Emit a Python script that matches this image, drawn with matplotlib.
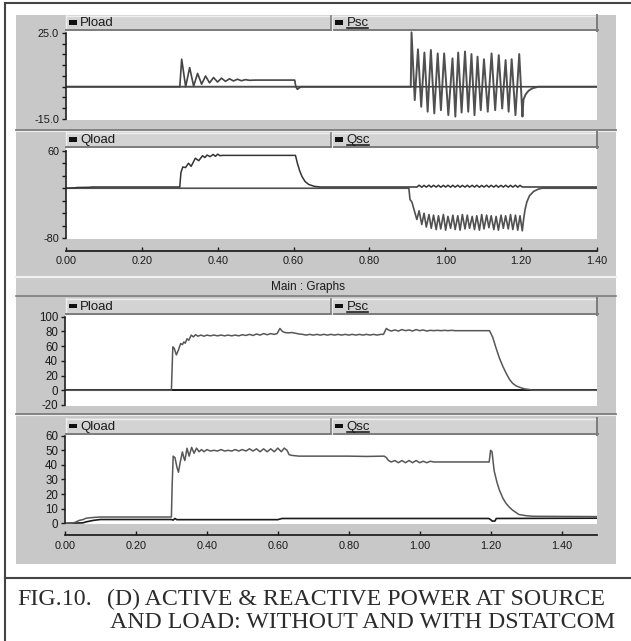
import matplotlib
matplotlib.use('Agg')
import matplotlib.pyplot as plt
from matplotlib.patches import Rectangle
from matplotlib.lines import Line2D

plt.rcParams['font.family'] = ['Liberation Sans', 'DejaVu Sans']

# ---------------- data ----------------
# Panel 1: active power, without compensation
p1_load_t = [0.000, 0.300, 0.305, 0.3155, 0.326, 0.3365, 0.347, 0.3575, 0.368, 0.3785,
             0.389, 0.3995, 0.410, 0.4205, 0.431, 0.4415, 0.452, 0.4625, 0.473, 0.4835,
             0.500, 0.603, 0.606, 0.610, 0.615, 0.620, 1.400]
p1_load_v = [0, 0, 12.8, 0, 8.9, 0.3, 6.2, 1.2, 5.0, 1.8,
             4.3, 2.2, 4.0, 2.5, 3.7, 2.7, 3.5, 2.8, 3.3, 3.0,
             3.1, 3.1, 0, -1.2, -0.5, 0, 0]
p1_sc_t = [0.000, 0.909, 0.911, 0.9195, 0.928, 0.9365, 0.945, 0.9535, 0.962, 0.971,
           0.980, 0.9885, 0.997, 1.008, 1.019, 1.0265, 1.034, 1.043, 1.052, 1.0605,
           1.069, 1.077, 1.085, 1.0935, 1.102, 1.112, 1.122, 1.1315, 1.141, 1.150,
           1.159, 1.167, 1.175, 1.185, 1.195, 1.2035, 1.206, 1.212, 1.220, 1.230,
           1.245, 1.400]
p1_sc_v = [0, 0, 25.3, -6.2, 17.4, -9.3, 15.9, -11.6, 17.1, -12.4,
           15.5, -10.9, 15.5, -13.2, 13.2, -13.9, 15.9, -12.0, 16.4, -11.6,
           15.2, -13.2, 14.0, -10.9, 12.8, -11.6, 15.5, -10.9, 14.7, -10.1,
           12.4, -11.6, 12.8, -13.2, 15.2, -13.9, -6.0, -3.5, -1.8, -0.7,
           0, 0]

# Panel 2: reactive power, without compensation
q_osc_t = [0.925, 0.931, 0.938, 0.944, 0.950, 0.957, 0.963, 0.969, 0.976, 0.982,
           0.988, 0.995, 1.001, 1.007, 1.014, 1.020, 1.026, 1.033, 1.039, 1.045,
           1.052, 1.058, 1.064, 1.071, 1.077, 1.083, 1.090, 1.096, 1.102, 1.109,
           1.115, 1.121, 1.128, 1.134, 1.140, 1.147, 1.153, 1.159, 1.166, 1.172,
           1.178, 1.185, 1.191, 1.197]
q_sc_osc = [-50, -36, -58, -40, -62, -42, -64, -43, -66, -44,
            -65, -42, -67, -45, -64, -43, -66, -44, -67, -42,
            -65, -43, -64, -45, -66, -44, -67, -42, -65, -43,
            -63, -44, -66, -45, -67, -43, -64, -44, -65, -42,
            -66, -43, -67, -44]
q_load_osc = [1.8, 4.8, 1.6, 4.6, 1.8, 4.8, 1.7, 4.7, 1.8, 4.8,
              1.6, 4.6, 1.8, 4.8, 1.7, 4.7, 1.8, 4.8, 1.6, 4.6,
              1.8, 4.8, 1.7, 4.7, 1.8, 4.8, 1.6, 4.6, 1.8, 4.8,
              1.7, 4.7, 1.8, 4.8, 1.6, 4.6, 1.8, 4.8, 1.7, 4.7,
              1.8, 4.8, 1.6, 4.6]
p2_sc_in_t = [0.0, 0.904, 0.907, 0.912, 0.918]
p2_sc_in_v = [0, 0, -18, -22, -35]
p2_sc_out_t = [1.203, 1.206, 1.210, 1.215, 1.222, 1.233, 1.245, 1.255, 1.400]
p2_sc_out_v = [-68, -52, -35, -22, -12, -5, -1.5, 0, 0]
p2_load_in_t = [0.000, 0.020, 0.030, 0.060, 0.070, 0.300, 0.303, 0.308, 0.315, 0.323,
                0.330, 0.341, 0.350, 0.360, 0.366, 0.372, 0.380, 0.388, 0.394, 0.400,
                0.406, 0.412, 0.605, 0.610, 0.616, 0.622, 0.630, 0.640, 0.655, 0.670,
                0.920]
p2_load_in_v = [0, 0.5, 1.2, 1.5, 2, 2, 25, 34, 33, 40,
                35, 48, 44, 52, 49, 53, 50.5, 54, 51, 54.5,
                52, 52.5, 52.5, 40, 28, 19, 11, 6, 3, 2,
                2]
p2_load_out_t = [1.203, 1.400]
p2_load_out_v = [2, 2]

# Panel 3: active power, with DSTATCOM
p3_load_t = [0.000, 0.300, 0.302, 0.304, 0.308, 0.314, 0.320, 0.326, 0.331, 0.335,
             0.339, 0.344, 0.349, 0.356, 0.362, 0.368, 0.375, 0.383, 0.392, 0.400,
             0.410, 0.420, 0.430, 0.440, 0.450, 0.460, 0.470, 0.480, 0.490, 0.500,
             0.510, 0.520, 0.530, 0.540, 0.550, 0.560, 0.570, 0.580, 0.590, 0.598,
             0.606, 0.613, 0.620, 0.630, 0.640, 0.650, 0.660, 0.670, 0.680, 0.690,
             0.700, 0.710, 0.720, 0.730, 0.740, 0.750, 0.760, 0.770, 0.780, 0.790,
             0.800, 0.810, 0.820, 0.830, 0.840, 0.850, 0.860, 0.870, 0.880, 0.890,
             0.898, 0.906, 0.912, 0.920, 0.930, 0.940, 0.950, 0.960, 0.970, 0.980,
             0.990, 1.000, 1.010, 1.020, 1.030, 1.040, 1.050, 1.060, 1.070, 1.080,
             1.090, 1.100, 1.120, 1.140, 1.160, 1.180, 1.197, 1.206, 1.215, 1.225,
             1.235, 1.244, 1.253, 1.262, 1.272, 1.282, 1.295, 1.310, 1.320, 1.500]
p3_load_v = [0, 0, 30, 59, 57, 48, 55, 63.5, 62, 65.7,
             64, 70, 68, 75, 72.5, 75.5, 73.5, 75, 73.5, 75,
             74, 75, 74, 75, 74, 75, 74, 75, 74, 75.5,
             74.5, 76, 74.5, 76.5, 75, 77, 75.5, 77, 76, 77,
             84, 80, 78.5, 78, 78.5, 77.5, 76.5, 76, 75, 76,
             75, 76, 75, 76, 75, 76, 75, 76, 75, 76,
             75, 76, 75, 76, 75, 76, 75, 76, 75, 76,
             76, 84, 82, 80.5, 82, 80.5, 82.5, 81, 82, 80.5,
             82.5, 81, 82, 80.5, 81.5, 81, 81.5, 81, 81.5, 81,
             81.5, 81, 81, 81, 81, 81, 81, 72, 58, 43.5,
             32, 23, 15, 9.5, 6, 4, 2, 1, 0, 0]
p3_sc_t = [0.0, 1.5]
p3_sc_v = [0, 0]

# Panel 4: reactive power, with DSTATCOM
p4_load_t = [0.000, 0.020, 0.030, 0.040, 0.050, 0.060, 0.080, 0.100, 0.300, 0.302,
             0.305, 0.310, 0.316, 0.320, 0.325, 0.331, 0.335, 0.338, 0.344, 0.350,
             0.357, 0.364, 0.371, 0.378, 0.385, 0.392, 0.400, 0.410, 0.420, 0.430,
             0.440, 0.450, 0.460, 0.470, 0.480, 0.490, 0.500, 0.510, 0.520, 0.530,
             0.540, 0.550, 0.560, 0.570, 0.580, 0.590, 0.600, 0.610, 0.618, 0.626,
             0.632, 0.640, 0.660, 0.700, 0.750, 0.800, 0.850, 0.900, 0.906, 0.912,
             0.920, 0.930, 0.940, 0.950, 0.960, 0.970, 0.980, 0.990, 1.000, 1.010,
             1.020, 1.030, 1.040, 1.060, 1.080, 1.100, 1.120, 1.140, 1.160, 1.180,
             1.196, 1.200, 1.204, 1.210, 1.218, 1.225, 1.235, 1.244, 1.253, 1.262,
             1.280, 1.300, 1.320, 1.500]
p4_load_v = [0, 0, 0.8, 2, 2.5, 3.5, 4, 4.3, 4.3, 25,
             46, 45, 38, 35, 42, 48.9, 45, 43, 51.4, 46,
             52, 48, 51.5, 49, 50.5, 49, 50.5, 49.5, 50, 49.5,
             50.5, 49.5, 50, 49.5, 50.5, 49.5, 50.5, 49.5, 51, 49.5,
             51, 49, 51, 49, 51, 49, 51.5, 49, 51.5, 50,
             47, 46.5, 46, 46, 46, 46, 45.8, 46, 45, 43,
             42, 43, 41.5, 43, 41.5, 43, 41.5, 43, 41.5, 42.5,
             41.5, 42.5, 42, 42, 42, 42, 42, 42, 42, 42,
             42, 50, 49, 36, 28, 22.6, 17, 13.5, 11, 9,
             6, 5.2, 4.8, 4.6]
p4_sc_t = [0.000, 0.050, 0.060, 0.080, 0.100, 0.300, 0.305, 0.310, 0.315, 0.600,
           0.612, 1.195, 1.200, 1.205, 1.212, 1.216, 1.500]
p4_sc_v = [0, 0.3, 1, 2, 2.6, 2.6, 2.2, 3.3, 2.5, 2.5,
           3.3, 3.3, 2.5, 1.5, 1.5, 3.3, 3.5]

top_xticks = [0.0, 0.2, 0.4, 0.6, 0.8, 1.0, 1.2, 1.4]
bot_xticks = [0.0, 0.2, 0.4, 0.6, 0.8, 1.0, 1.2, 1.4]
p1_yticks = [25, 20, 15, 10, 5, 0, -5, -10, -15]
p1_ylabels = ['25.0', '', '', '', '', '', '', '', '-15.0']
p2_yticks = [60, 40, 20, 0, -20, -40, -60, -80]
p2_ylabels = ['60', '', '', '', '', '', '', '-80']
p3_yticks = [100, 80, 60, 40, 20, 0, -20]
p4_yticks = [60, 50, 40, 30, 20, 10, 0]

# ---------------- figure ----------------
W, H = 631, 641
fig = plt.figure(figsize=(W / 100, H / 100), dpi=100)
fig.patch.set_facecolor('white')


def fx(x):
    return x / W


def fy(y):
    return 1 - y / H


def frect(x0, y0, x1, y1, **kw):
    fig.add_artist(Rectangle((fx(x0), fy(y1)), (x1 - x0) / W, (y1 - y0) / H,
                             transform=fig.transFigure, **kw))


def fline(xs, ys, **kw):
    fig.add_artist(Line2D([fx(x) for x in xs], [fy(y) for y in ys],
                          transform=fig.transFigure, **kw))


BG = '#c8c8c8'
HDR = '#d3d3d3'
DARK = '#7c7c7c'
LIGHT = '#eeeeee'
TXT = '#1a1a1a'

# outer frame
fline([5, 631], [3, 3], color='#444444', lw=1.5)
fline([5, 5], [3, 641], color='#444444', lw=1.5)
fline([5, 631], [578, 578], color='#444444', lw=1.5)

# gray panel
frect(16, 15, 616, 564, facecolor=BG, edgecolor='none', zorder=0)
# separators
for yy in (130, 414):
    fline([16, 616], [yy, yy], color=DARK, lw=1.3)
    fline([16, 616], [yy + 1.2, yy + 1.2], color=LIGHT, lw=0.8)
# "Main : Graphs" bar
fline([16, 616], [277, 277], color='#f2f2f2', lw=1.5)
frect(16, 278, 616, 296, facecolor='#cbcbcb', edgecolor='none')
fline([16, 616], [296.5, 296.5], color=DARK, lw=1.2)
fig.text(fx(308), fy(287), 'Main : Graphs', ha='center', va='center',
         fontsize=8.5, color=TXT)

# headers
headers = [(15, 31, 'Pload', 'Psc'), (132, 148, 'Qload', 'Qsc'),
           (298, 315, 'Pload', 'Psc'), (418, 435, 'Qload', 'Qsc')]
for y0, y1, lab_l, lab_r in headers:
    yc = (y0 + y1) / 2
    frect(66, y0, 597, y1, facecolor=HDR, edgecolor='none')
    fline([66, 597], [y0 + 0.5, y0 + 0.5], color=LIGHT, lw=1)
    fline([66, 66], [y0, y1], color=LIGHT, lw=1)
    fline([66, 597.5], [y1 - 0.6, y1 - 0.6], color=DARK, lw=1.4)
    fline([597, 597], [y0, y1], color=DARK, lw=1.4)
    fline([331, 331], [y0 + 1, y1 - 1], color=DARK, lw=1.2)
    fline([332.3, 332.3], [y0 + 1, y1 - 1], color=LIGHT, lw=0.8)
    frect(69, yc - 2.8, 77, yc + 1.6, facecolor='#111111', edgecolor='none')
    fig.text(fx(80), fy(yc + 0.5), lab_l, ha='left', va='center', fontsize=9.5, color=TXT)
    frect(335, yc - 2.8, 343, yc + 1.6, facecolor='#111111', edgecolor='none')
    fig.text(fx(346.5), fy(yc + 0.5), lab_r, ha='left', va='center', fontsize=9.5, color=TXT)
    wpx = {'Psc': 21, 'Qsc': 22}[lab_r]
    fline([346.5, 346.5 + wpx], [y1 - 2.8, y1 - 2.8], color='#111111', lw=1.1)


def make_ax(x0, x1, y0, y1, ylim, xlim):
    ax = fig.add_axes([fx(x0), fy(y1), (x1 - x0) / W, (y1 - y0) / H])
    ax.set_facecolor('white')
    ax.set_xlim(*xlim)
    ax.set_ylim(*ylim)
    for s in ('top', 'right', 'bottom'):
        ax.spines[s].set_visible(False)
    ax.spines['left'].set_color('#222222')
    ax.spines['left'].set_linewidth(1.2)
    ax.tick_params(axis='x', bottom=False, labelbottom=False)
    ax.tick_params(axis='y', direction='out', length=3, width=1, pad=2,
                   labelsize=7.8, colors=TXT)
    return ax


def bottom_axis(ax, ticks, outward):
    sp = ax.spines['bottom']
    sp.set_visible(True)
    sp.set_position(('outward', outward))
    sp.set_color('#222222')
    sp.set_linewidth(1.3)
    ax.set_xticks(ticks)
    ax.set_xticklabels(['%.2f' % v for v in ticks])
    ax.tick_params(axis='x', bottom=True, labelbottom=True, direction='in',
                   length=3.2, width=1, pad=4, labelsize=7.8, colors=TXT)


LOADC = '#575757'

# panel 1
ax1 = make_ax(66, 597, 31, 120, (-15.47, 25.93), (0, 1.4))
ax1.set_yticks(p1_yticks)
ax1.set_yticklabels(p1_ylabels)
ax1.spines['left'].set_bounds(-15, 25)
ax1.plot(p1_sc_t, p1_sc_v, color='#505050', lw=1.4)
ax1.plot(p1_load_t, p1_load_v, color='#444444', lw=1.2)

# panel 2
ax2 = make_ax(66, 597, 148, 239, (-81.1, 64.3), (0, 1.4))
ax2.set_yticks(p2_yticks)
ax2.set_yticklabels(p2_ylabels)
ax2.spines['left'].set_bounds(-80, 60)
ax2.plot(p2_sc_in_t + q_osc_t + p2_sc_out_t, p2_sc_in_v + q_sc_osc + p2_sc_out_v,
         color='#505050', lw=1.2)
ax2.plot(p2_load_in_t + q_osc_t + p2_load_out_t, p2_load_in_v + q_load_osc + p2_load_out_v,
         color='#333333', lw=1.1)
bottom_axis(ax2, top_xticks, 8.6)

# panel 3
ax3 = make_ax(65, 597, 315, 406, (-21.36, 102.3), (0, 1.5))
ax3.set_yticks(p3_yticks)
ax3.set_yticklabels([str(v) for v in p3_yticks])
ax3.tick_params(axis='y', labelsize=8.3)
ax3.spines['left'].set_bounds(-20, 100)
ax3.plot(p3_sc_t, p3_sc_v, color='#1a1a1a', lw=1.4)
ax3.plot(p3_load_t, p3_load_v, color=LOADC, lw=1.1)

# panel 4
ax4 = make_ax(65, 597, 435, 524, (-0.48, 60.48), (0, 1.5))
ax4.set_yticks(p4_yticks)
ax4.set_yticklabels([str(v) for v in p4_yticks])
ax4.tick_params(axis='y', labelsize=8.3)
ax4.spines['left'].set_bounds(0, 60)
ax4.plot(p4_sc_t, p4_sc_v, color='#1a1a1a', lw=1.2)
ax4.plot(p4_load_t, p4_load_v, color=LOADC, lw=1.1)
bottom_axis(ax4, bot_xticks, 8.0)

# caption
cap_kw = dict(family=['Liberation Serif', 'DejaVu Serif'], fontsize=17.2,
              color='#2b2b2b', va='baseline', ha='left')
fig.text(fx(17), fy(605), 'FIG.10.', **cap_kw)
fig.text(fx(107), fy(605), '(D) ACTIVE & REACTIVE POWER AT SOURCE', **cap_kw)
fig.text(fx(110), fy(628), 'AND LOAD: WITHOUT AND WITH DSTATCOM', **cap_kw)

fig.savefig('out.png', dpi=100, facecolor='white')
